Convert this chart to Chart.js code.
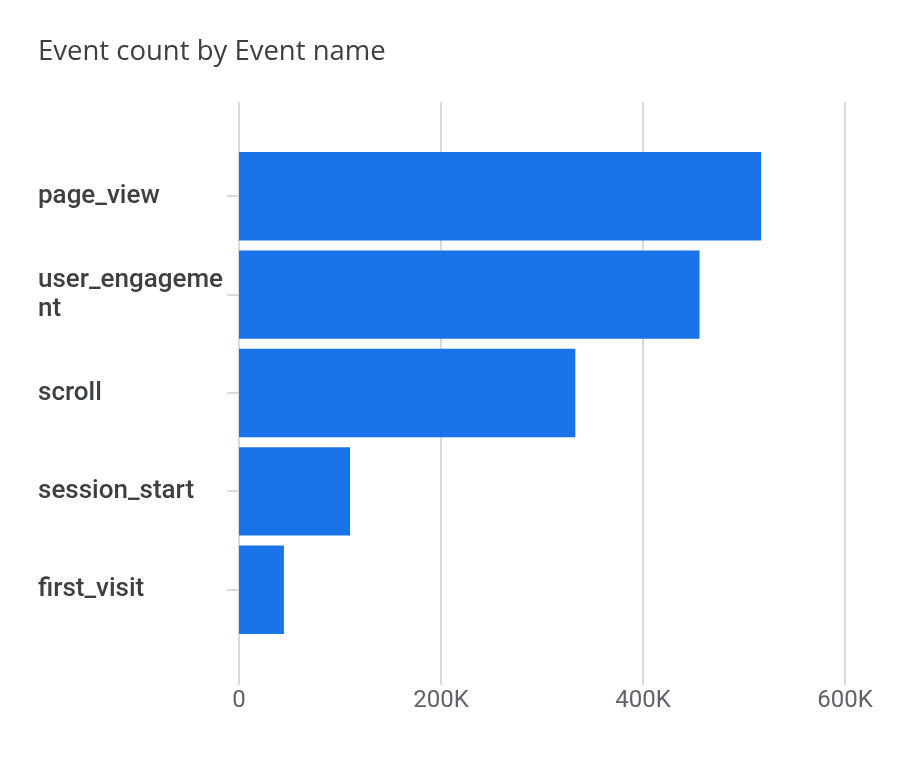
<!DOCTYPE html>
<html>
<head>
<meta charset="utf-8">
<script src="https://cdn.jsdelivr.net/npm/chart.js@4.4.1/dist/chart.umd.min.js"></script>
<style>
html,body{margin:0;padding:0;background:#fff;}
#wrap{width:910px;height:766px;position:relative;}
</style>
</head>
<body>
<div id="wrap"><canvas id="c" width="910" height="766"></canvas></div>
<script>
const categories = ['page_view', ['user_engageme', 'nt'], 'scroll', 'session_start', 'first_visit'];
const eventCounts = [517000, 456000, 333000, 110000, 44500];
const xTickValues = [0, 200000, 400000, 600000];
const xTickLabels = ['0', '200K', '400K', '600K'];
const chartTitle = 'Event count by Event name';

const gridPlugin = {
  id: 'fullGrid',
  beforeDatasetsDraw(chart) {
    const {ctx, chartArea, scales} = chart;
    ctx.save();
    ctx.strokeStyle = '#dadada';
    ctx.lineWidth = 2;
    xTickValues.forEach(v => {
      const x = Math.round(scales.x.getPixelForValue(v));
      ctx.beginPath();
      ctx.moveTo(x, chartArea.top - 45);
      ctx.lineTo(x, chartArea.bottom + 46);
      ctx.stroke();
    });
    ctx.restore();
  }
};

new Chart(document.getElementById('c'), {
  type: 'bar',
  data: {
    labels: categories,
    datasets: [{
      data: eventCounts,
      backgroundColor: '#1a73e8',
      borderWidth: 0,
      categoryPercentage: 1.0,
      barPercentage: 0.898
    }]
  },
  options: {
    indexAxis: 'y',
    responsive: false,
    animation: false,
    layout: { padding: { left: 38, right: 65, top: 0, bottom: 43 } },
    plugins: {
      legend: { display: false },
      tooltip: { enabled: false },
      title: {
        display: true,
        text: chartTitle,
        align: 'start',
        color: '#3c4043',
        font: { family: 'Open Sans', size: 27.5, weight: '400', lineHeight: 1.2 },
        padding: { top: 36, bottom: 78 }
      }
    },
    scales: {
      x: {
        type: 'linear',
        min: 0,
        max: 600000,
        afterBuildTicks(scale) { scale.ticks = xTickValues.map(v => ({ value: v })); },
        grid: { display: false, drawTicks: true, tickLength: 40 },
        border: { display: false },
        ticks: {
          padding: 7.6,
          color: '#5f6368',
          font: { family: 'Roboto', size: 24, weight: '400' },
          callback(v) { const i = xTickValues.indexOf(v); return i >= 0 ? xTickLabels[i] : ''; }
        }
      },
      y: {
        type: 'category',
        offset: true,
        afterFit(scale) { scale.width = 201; },
        grid: { drawOnChartArea: false, drawTicks: true, tickLength: 12, offset: false, color: '#dadada', lineWidth: 2 },
        border: { display: false },
        ticks: {
          crossAlign: 'far',
          padding: 14,
          color: '#3c4043',
          font: { family: 'Roboto', size: 26, weight: '500', lineHeight: 1.12 }
        }
      }
    }
  },
  plugins: [gridPlugin]
});
</script>
</body>
</html>
